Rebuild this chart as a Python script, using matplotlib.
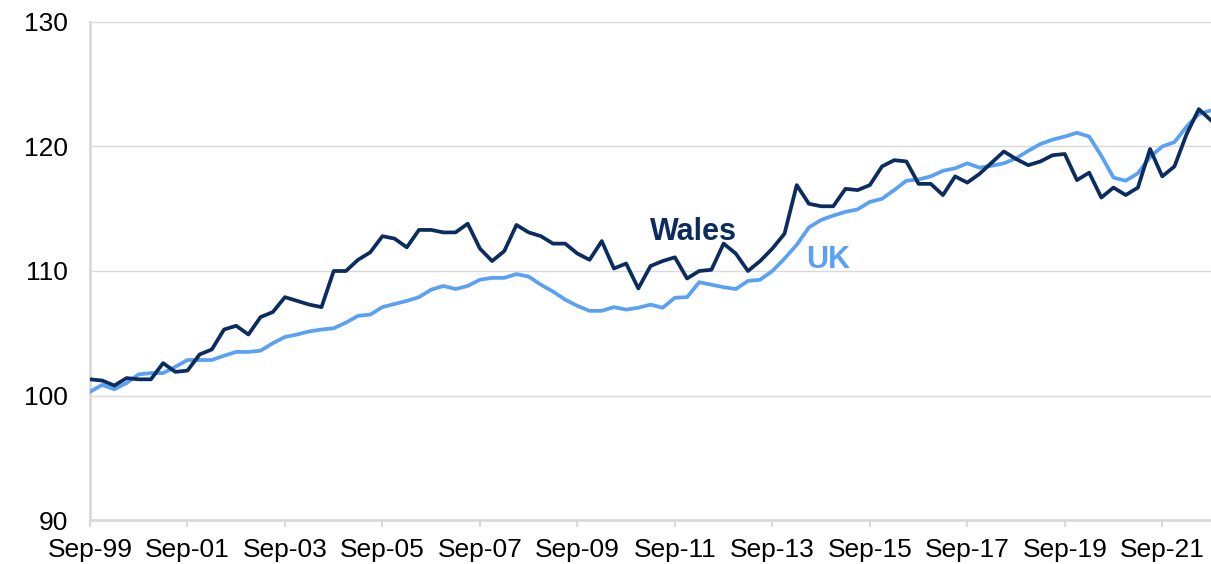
import matplotlib.pyplot as plt

plt.rcParams['font.family'] = ['Liberation Sans', 'DejaVu Sans']

# quarterly index, Sep-99 .. Sep-22
wales = [101.3, 101.2, 100.8, 101.4, 101.3, 101.3, 102.6, 101.9, 102.0, 103.3,
         103.7, 105.3, 105.6, 104.9, 106.3, 106.7, 107.9, 107.6, 107.3, 107.1,
         110.0, 110.0, 110.9, 111.5, 112.8, 112.6, 111.9, 113.3, 113.3, 113.1,
         113.1, 113.8, 111.8, 110.8, 111.6, 113.7, 113.1, 112.8, 112.2, 112.2,
         111.4, 110.9, 112.4, 110.2, 110.6, 108.6, 110.4, 110.8, 111.1, 109.4,
         110.0, 110.1, 112.2, 111.4, 110.0, 110.8, 111.8, 113.0, 116.9, 115.4,
         115.2, 115.2, 116.6, 116.5, 116.9, 118.4, 118.9, 118.8, 117.0, 117.0,
         116.1, 117.6, 117.1, 117.8, 118.7, 119.6, 119.0, 118.5, 118.8, 119.3,
         119.4, 117.3, 117.9, 115.9, 116.7, 116.1, 116.7, 119.8, 117.6, 118.4,
         121.0, 123.0, 122.1]

uk = [100.3, 100.85, 100.5, 101.0, 101.7, 101.8, 101.8, 102.3, 102.85, 102.85,
      102.85, 103.2, 103.5, 103.5, 103.6, 104.2, 104.7, 104.9, 105.15, 105.3,
      105.4, 105.85, 106.4, 106.5, 107.1, 107.35, 107.6, 107.9, 108.5, 108.8,
      108.55, 108.8, 109.3, 109.45, 109.45, 109.75, 109.55, 108.9, 108.35, 107.7,
      107.2, 106.8, 106.8, 107.1, 106.9, 107.05, 107.3, 107.05, 107.85, 107.9,
      109.1, 108.9, 108.7, 108.55, 109.2, 109.3, 110.0, 111.0, 112.1, 113.5,
      114.1, 114.45, 114.75, 114.95, 115.55, 115.8, 116.5, 117.25, 117.35, 117.6,
      118.05, 118.25, 118.65, 118.3, 118.45, 118.65, 119.05, 119.65, 120.2, 120.55,
      120.8, 121.1, 120.8, 119.25, 117.5, 117.25, 117.85, 119.15, 120.0, 120.35,
      121.6, 122.6, 122.9]

tick_labels = ['Sep-99', 'Sep-01', 'Sep-03', 'Sep-05', 'Sep-07', 'Sep-09',
               'Sep-11', 'Sep-13', 'Sep-15', 'Sep-17', 'Sep-19', 'Sep-21']
y_ticks = [90, 100, 110, 120, 130]

wales_col = '#0b2c5f'
uk_col = '#5aa0f5'
grid_col = '#d9d9d9'

fig = plt.figure(figsize=(12.11, 5.64), dpi=100)
ax = fig.add_axes([90 / 1211, 44 / 564, 1 - 90 / 1211, 498 / 564])

x = list(range(len(wales)))
ax.plot(x, uk, color=uk_col, lw=2.7, zorder=3)
ax.plot(x, wales, color=wales_col, lw=2.7, zorder=4)

ax.set_xlim(0, len(wales) - 1)
ax.set_ylim(90, 130)
ax.set_yticks(y_ticks)
ax.set_xticks([i * 8 for i in range(len(tick_labels))])
ax.set_xticklabels(tick_labels)

ax.grid(axis='y', color=grid_col, lw=1)
ax.set_axisbelow(True)
for s in ['top', 'right']:
    ax.spines[s].set_visible(False)
for s in ['left', 'bottom']:
    ax.spines[s].set_color(grid_col)
    ax.spines[s].set_linewidth(2)

ax.tick_params(axis='y', length=0, pad=16, labelsize=19)
ax.tick_params(axis='x', length=5, width=1.5, color=grid_col, pad=8, labelsize=19)

# series labels placed inside the plot
ax.text(49.5, 113.1, 'Wales', color=wales_col, fontsize=22, fontweight='bold',
        ha='center', va='center')
ax.text(60.6, 110.9, 'UK', color=uk_col, fontsize=22, fontweight='bold',
        ha='center', va='center')

fig.savefig('out.png', dpi=100)
